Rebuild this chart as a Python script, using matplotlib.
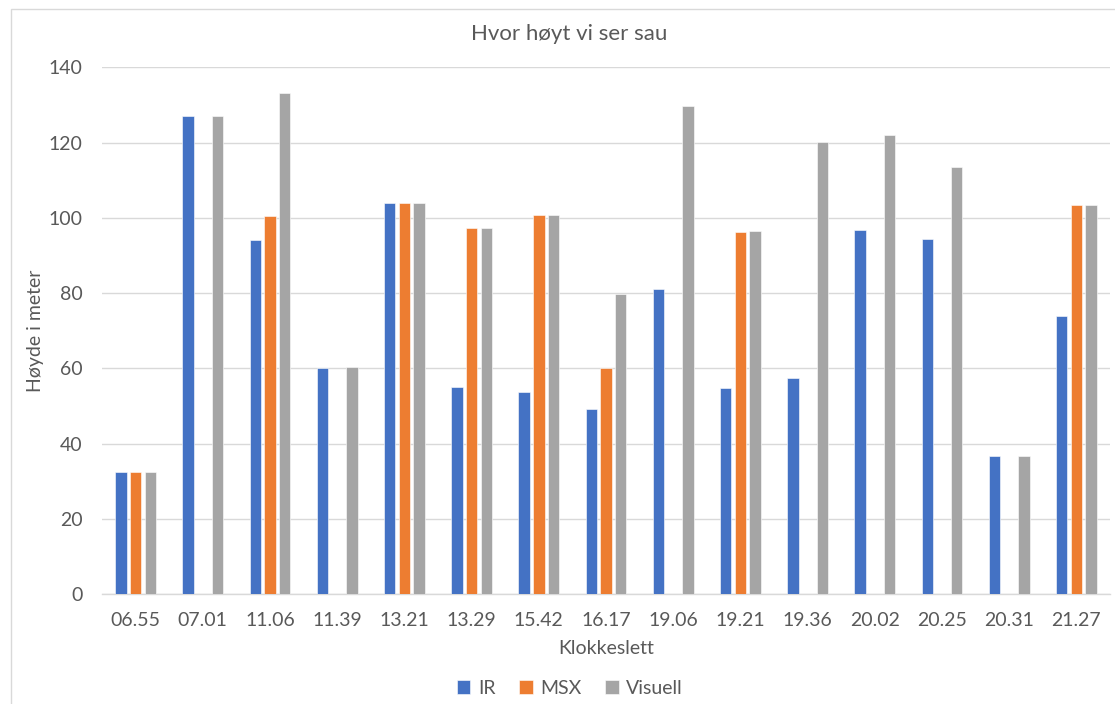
import numpy as np
import matplotlib.pyplot as plt
from matplotlib.patches import Rectangle

plt.rcParams['font.family'] = ['Lato', 'DejaVu Sans']

klokkeslett = ["06.55", "07.01", "11.06", "11.39", "13.21", "13.29", "15.42", "16.17",
               "19.06", "19.21", "19.36", "20.02", "20.25", "20.31", "21.27"]
ir = [32.4, 127.1, 94.0, 60.0, 104.0, 55.2, 53.7, 49.1, 81.1, 54.8, 57.4, 96.9, 94.5, 36.7, 73.8]
msx = [32.4, np.nan, 100.5, np.nan, 104.0, 97.4, 100.7, 60.0, np.nan, 96.2, np.nan, np.nan, np.nan, np.nan, 103.3]
visuell = [32.4, 127.1, 133.3, 60.4, 104.0, 97.4, 100.7, 79.8, 129.6, 96.5, 120.1, 122.1, 113.6, 36.7, 103.3]

series = [("IR", ir, "#4472C4"), ("MSX", msx, "#ED7D31"), ("Visuell", visuell, "#A5A5A5")]
textColor = "#595959"
lineColor = "#D9D9D9"

fig = plt.figure(figsize=(11.15, 7.04), dpi=100)
ax = fig.add_axes([102/1115, 1 - 594.3/704, 1008/1115, (594.3 - 67.3)/704])

x = np.arange(len(klokkeslett))
step = 0.219
width = 0.171
for i, (name, vals, color) in enumerate(series):
  ax.bar(x + (i - 1)*step, vals, width, color=color, label=name,
         edgecolor="white", linewidth=0.4, zorder=3)

ax.set_xlim(-0.5, len(klokkeslett) - 0.5)
ax.set_ylim(0, 140)
ax.set_yticks(range(0, 141, 20))
ax.set_xticks(x)
ax.set_xticklabels(klokkeslett)
ax.tick_params(axis='both', length=0, labelsize=14, colors=textColor)
ax.tick_params(axis='y', pad=14)
ax.tick_params(axis='x', pad=13)

ax.grid(axis='y', color=lineColor, linewidth=1, zorder=0)
for side in ['top', 'right', 'left']:
  ax.spines[side].set_visible(False)
ax.spines['bottom'].set_color(lineColor)
ax.spines['bottom'].set_linewidth(1)

ax.set_xlabel("Klokkeslett", fontsize=14, color=textColor, labelpad=8)
ax.set_ylabel("Høyde i meter", fontsize=14, color=textColor)
ax.yaxis.set_label_coords(-0.0575, 0.5)
fig.text(0.5 + 12/1115, 1 - 34/704, "Hvor høyt vi ser sau", ha='center', va='center',
         fontsize=16, color=textColor)

leg = fig.legend(loc='center', bbox_to_anchor=(570/1115, 1 - 688/704), ncol=3,
                 frameon=False, fontsize=14, handlelength=0.7, handleheight=0.7,
                 handletextpad=0.4, columnspacing=1.2)
for t in leg.get_texts():
  t.set_color(textColor)

# chart area outline
fig.patches.append(Rectangle((11/1115, -0.02), 1.05, 1.02 - 9/704, transform=fig.transFigure,
                             fill=False, edgecolor=lineColor, linewidth=1))

fig.savefig("out.png", dpi=100)
